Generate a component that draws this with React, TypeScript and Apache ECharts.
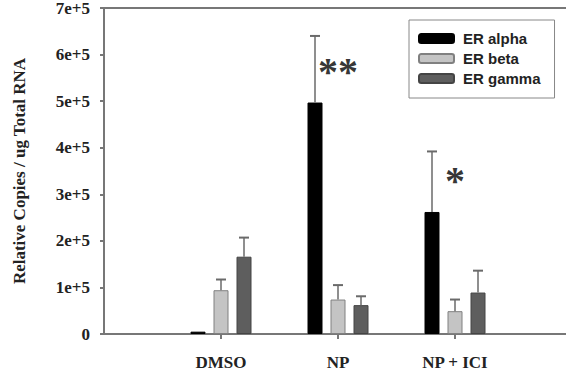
import React, { useEffect, useRef } from "react";
import * as echarts from "echarts";

const categories = ["DMSO", "NP", "NP + ICI"];
const seriesNames = ["ER alpha", "ER beta", "ER gamma"];
const erAlpha = [5000, 497000, 262000];
const erAlphaErr = [0, 143000, 130000];
const erBeta = [94000, 74000, 49000];
const erBetaErr = [23000, 31000, 25000];
const erGamma = [166000, 62000, 89000];
const erGammaErr = [41000, 19000, 47000];
const yMax = 700000;
const yInterval = 100000;
const marks = ["", "**", "*"];
const markHeights = [0, 563000, 330000];

const colors = ["#000000", "#c4c4c4", "#5e5e5e"];
const borders = ["#000000", "#808080", "#444444"];

export default function App() {
  const ref = useRef<HTMLDivElement>(null);
  useEffect(() => {
    if (!ref.current) return;
    const chart = echarts.init(ref.current, null, { renderer: "svg" });
    const xSpan = 6; // x positions 1..3 hold the groups; the axis runs past the right edge
    const slot = 117;
    const positions = categories.map((_, i) => i + 1);
    const values = [erAlpha, erBeta, erGamma];
    const errs = [erAlphaErr, erBetaErr, erGammaErr];
    const barWidth = 15;
    const gap = 8;

    const bars = seriesNames.map((name, s) => ({
      name,
      type: "bar",
      data: values[s].map((v, i) => [positions[i], v]),
      barWidth,
      barGap: (gap / barWidth) * 100 + "%",
      itemStyle: { color: colors[s], borderColor: borders[s], borderWidth: 1 },
      z: 2,
    }));

    const errData: any[] = [];
    values.forEach((vals, s) => {
      vals.forEach((v, i) => {
        if (errs[s][i] > 0) errData.push([positions[i], v, errs[s][i], s]);
      });
    });

    const errSeries = {
      type: "custom",
      name: "err",
      data: errData,
      z: 3,
      silent: true,
      renderItem: (params: any, api: any) => {
        const x = api.value(0);
        const y = api.value(1);
        const e = api.value(2);
        const s = api.value(3);
        const base = api.coord([x, y]);
        const top = api.coord([x, y + e]);
        const cx = base[0] + (s - 1) * (barWidth + gap);
        const st = { stroke: "#6a6a6a", lineWidth: 1.5 };
        return {
          type: "group",
          children: [
            { type: "line", shape: { x1: cx, y1: base[1], x2: cx, y2: top[1] }, style: st },
            { type: "line", shape: { x1: cx - 5, y1: top[1], x2: cx + 5, y2: top[1] }, style: { stroke: "#6a6a6a", lineWidth: 2 } },
          ],
        };
      },
      encode: { x: 0, y: 1 },
    };

    const markSeries = {
      type: "scatter",
      name: "marks",
      symbolSize: 0,
      silent: true,
      data: categories
        .map((c, i) => ({ value: [positions[i], markHeights[i]], name: marks[i] }))
        .filter((d) => d.name !== ""),
      label: {
        show: true,
        position: "inside",
        formatter: (p: any) => p.name,
        fontFamily: "Liberation Serif",
        fontWeight: "bold",
        fontSize: 40,
        color: "#000",
      },
      z: 4,
    };

    chart.setOption({
      animation: false,
      grid: {
        left: 104,
        top: 8,
        width: slot * xSpan,
        bottom: 45,
        show: false,
        outerBoundsMode: "none",
        containLabel: false,
      },
      legend: {
        data: seriesNames,
        orient: "vertical",
        left: 409,
        top: 20,
        padding: [11, 14, 12, 9],
        borderColor: "#888",
        borderWidth: 1,
        itemWidth: 35,
        itemHeight: 9,
        itemGap: 5,
        textStyle: {
          fontFamily: "Liberation Sans",
          fontWeight: "bold",
          fontSize: 15,
          color: "#222",
          padding: [0, 0, 0, 4],
        },
      },
      xAxis: [
        {
          type: "value",
          min: 0,
          max: xSpan,
          interval: 1,
          axisLine: { show: true, onZero: false, lineStyle: { color: "#777", width: 2 } },
          axisTick: {
            show: true,
            customValues: positions,
            length: 5,
            lineStyle: { color: "#777", width: 2 },
          },
          axisLabel: {
            customValues: positions,
            margin: 20,
            fontFamily: "Liberation Serif",
            fontWeight: "bold",
            fontSize: 17,
            color: "#222",
            formatter: (v: number) => categories[Math.round(v) - 1] ?? "",
          },
          splitLine: { show: false },
        },
        {
          type: "value",
          position: "top",
          min: 0,
          max: xSpan,
          interval: 1,
          axisLine: { show: true, onZero: false, lineStyle: { color: "#777", width: 2 } },
          axisTick: { show: false },
          axisLabel: { show: false },
          splitLine: { show: false },
        },
      ],
      yAxis: {
        type: "value",
        min: 0,
        max: yMax,
        interval: yInterval,
        name: "Relative Copies / ug Total RNA",
        nameLocation: "middle",
        nameGap: 76,
        nameTextStyle: {
          fontFamily: "Liberation Serif",
          fontWeight: "bold",
          fontSize: 17,
          color: "#222",
        },
        axisLine: { show: true, onZero: false, lineStyle: { color: "#777", width: 2 } },
        axisTick: { show: true, length: 4, lineStyle: { color: "#777", width: 2 } },
        axisLabel: {
          margin: 14,
          fontFamily: "Liberation Serif",
          fontWeight: "bold",
          fontSize: 17,
          color: "#222",
          formatter: (v: number) => (v === 0 ? "0" : `${v / 100000}e+5`),
        },
        splitLine: { show: false },
      },
      series: [...bars, errSeries, markSeries],
    });
    return () => chart.dispose();
  }, []);
  return (
    <div
      ref={ref}
      style={{ position: "absolute", left: 0, top: 0, width: 566, height: 379, background: "#fff" }}
    />
  );
}
